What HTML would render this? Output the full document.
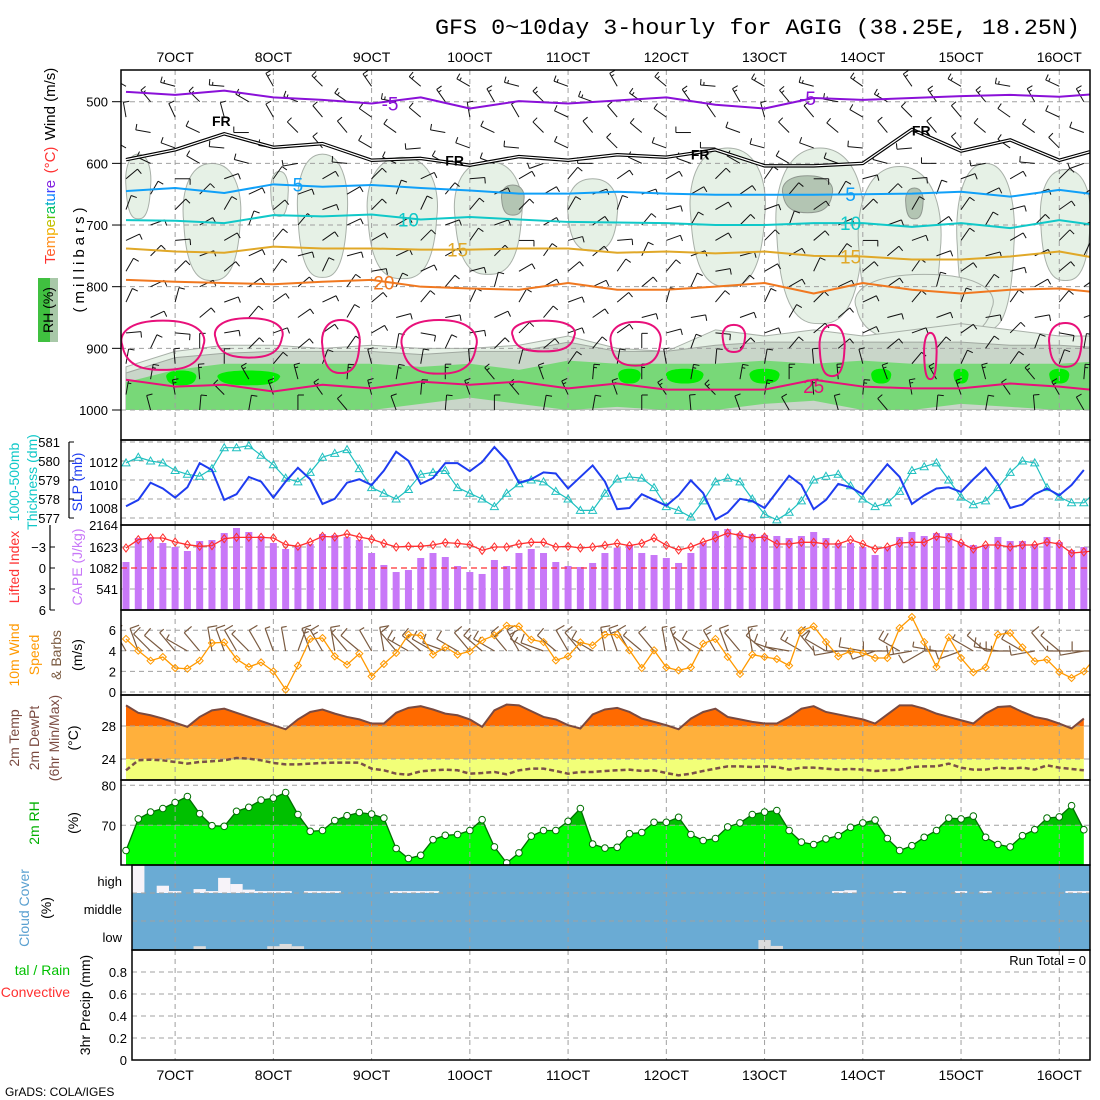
<!DOCTYPE html>
<html><head><meta charset="utf-8"><style>
html,body{margin:0;padding:0;background:#fff;}
svg{display:block;font-family:"Liberation Sans",sans-serif;}
</style></head><body>
<svg id="chart" xmlns="http://www.w3.org/2000/svg" width="1100" height="1100" viewBox="0 0 1100 1100">
<rect x="0" y="0" width="1100" height="1100" fill="#fff"/>
<text x="435" y="34" font-family="Liberation Mono, monospace" font-size="22" textLength="645" lengthAdjust="spacingAndGlyphs">GFS 0~10day 3-hourly for AGIG (38.25E, 18.25N)</text>
<g id="layer"></g>
</svg>
<script>
// ---------- DATA ----------
const dayLabels = ["7OCT","8OCT","9OCT","10OCT","11OCT","12OCT","13OCT","14OCT","15OCT","16OCT"];
const isoM5 = [484,489,482,493,497,503,493,511,499,503,498,493,505,511,494,497,494,491,489,492,486];
const isoFR = [594,578,552,574,568,595,592,603,589,595,586,590,578,604,604,600,545,580,562,595,573];
const iso5  = [645,640,648,634,638,635,640,644,649,649,646,649,651,651,651,650,649,646,654,643,653];
const iso10 = [692,693,697,684,686,683,691,687,691,695,696,697,700,700,697,697,703,697,705,692,703];
const iso15 = [738,743,745,735,738,738,740,740,738,738,745,743,746,743,750,751,756,756,751,743,757];
const iso20 = [789,792,794,796,792,789,800,803,805,794,805,805,800,794,811,794,805,811,805,803,811];
const iso25 = [951,962,959,970,959,965,954,959,954,965,957,967,967,967,951,962,965,965,957,962,970];
const rh30Top = [930,905,895,895,900,895,900,900,895,880,900,905,870,880,870,880,870,860,870,880,880];
const rh50Top = [940,915,908,905,905,905,910,905,905,890,905,905,895,890,890,890,890,890,895,895,900];
const rh70Top = [955,935,925,925,925,925,930,925,935,920,925,925,925,920,925,920,925,925,925,925,920];
const rh70Bot = [1000,1000,1000,1000,1000,1000,990,980,990,1000,995,1000,1000,990,985,1000,1000,990,995,1000,1000];
const plumeT   = [1,7,12.5,16,22.5,29.5,38,49,56.5,63,70,76.5,65];
const plumeTop = [585,600,613,585,590,597,625,575,575,605,600,610,780];
const plumeBot = [690,790,686,785,787,780,742,800,860,880,870,790,890];
const plumeW   = [1,2.3,0.7,2,2.8,2.7,2,3,3.5,3.3,2.3,2,5.5];
const darkT = [31.5,55.5,64.2], darkTop=[635,620,640], darkBot=[684,680,690], darkW=[0.9,2,0.7];
const wetT=[4.5,10,45.5,41,52,61.5,68,76], wetP=[948,948,945,945,945,945,945,945], wetW=[1.2,2.5,1.5,0.9,1.2,0.8,0.6,0.8];
const c25T=[3,10,17.5,25.5,34,41.5,49.5,57.5,65.5,76.5], c25Top=[855,851,854,854,855,857,862,862,875,859], c25Bot=[935,915,940,941,905,928,906,945,950,930], c25W=[3.3,2.7,1.5,3,2.5,2,0.9,1,0.5,1.3];
const barbLevels=[475,500,525,550,575,600,625,650,675,700,725,750,775,800,825,850,875,900,925,950,975,1000];
const barbLevelDir=[300,310,320,300,290,280,60,50,45,50,60,55,50,45,40,60,70,30,10,350,340,350];
const barbLevelSpd=[8,8,7,6,6,5,5,6,6,7,7,7,6,6,6,6,5,6,7,8,8,7];
const barbPert=[0,20,-15,10,-25,5,30,-10,15,-20,25,-5,10,-30,0,15,-15,20,-10,5,30,-20,10,-5,-25,15,0,20,-15,10,5,-30,25,-10,0,15,-20,10,-5,20];
const thick=[579.9,580.2,580.0,579.9,579.5,579.3,579.2,579.6,580.7,580.7,580.8,580.3,579.8,579.1,578.9,579.4,580.2,580.4,580.6,579.6,578.6,578.3,578.0,578.5,579.3,579.4,579.5,578.6,578.3,578.0,577.6,578.3,578.8,579.0,578.9,578.4,578.0,577.4,577.4,578.3,579.05,579.16,579.1,578.6,577.6,577.4,577.05,577.9,578.9,579.1,578.9,578.0,577.2,576.9,577.3,577.9,579.0,579.2,579.3,578.7,578.0,577.6,577.8,578.4,579.5,579.7,579.9,579.0,578.1,577.7,577.9,578.6,579.4,580.0,579.9,578.6,578.1,577.8,577.8,578.4];
const slp=[1008.15,1008.7,1010.2,1009.7,1008.9,1009.8,1011.9,1011.3,1008.7,1009.2,1010.7,1010.3,1008.9,1010.3,1011.5,1010.5,1008.35,1008.8,1010.2,1010.5,1010.0,1011.25,1012.9,1012.1,1010.1,1010.6,1011.9,1011.9,1011.2,1012.0,1013.3,1012.15,1010.2,1010.5,1011.1,1011.0,1009.7,1010.7,1011.7,1010.3,1007.9,1008.0,1009.2,1008.7,1008.2,1009.1,1010.4,1009.3,1007.0,1007.6,1008.8,1008.6,1008.0,1009.4,1010.8,1010.0,1007.9,1008.7,1010.1,1009.8,1009.2,1010.5,1011.8,1010.7,1008.35,1009.1,1009.7,1009.8,1009.4,1010.5,1011.5,1010.1,1008.0,1008.3,1009.2,1009.7,1009.1,1010.0,1011.3];
const cape=[1222,1833,1859,1706,1604,1502,1757,1782,1960,2088,1986,1884,1706,1553,1604,1680,1935,1910,1859,1782,1451,1146,967,1018,1324,1451,1349,1120,967,917,1273,1120,1451,1553,1451,1222,1120,1095,1197,1451,1587,1646,1451,1400,1324,1197,1451,1706,2011,2062,1960,1935,1910,1884,1833,1884,1986,1833,1706,1706,1604,1400,1604,1859,1986,1884,1960,1960,1731,1655,1655,1859,1757,1757,1680,1859,1731,1528,1604];
const liftedIdx=[-2.86,-4.05,-4.29,-4.29,-3.71,-3.33,-3.1,-3.19,-4.19,-4.38,-4.38,-4.38,-4.29,-3.33,-3.1,-3.71,-4.52,-4.43,-4.86,-4.43,-4.1,-3.52,-3.0,-3.1,-3.1,-3.29,-3.62,-3.52,-3.33,-2.52,-3.0,-3.0,-3.43,-3.67,-3.67,-3.0,-3.1,-2.86,-3.0,-3.24,-3.52,-3.19,-3.52,-4.29,-3.24,-2.57,-3.0,-3.71,-4.29,-5.0,-4.67,-4.29,-4.43,-3.43,-3.43,-3.67,-3.67,-3.43,-3.43,-4.05,-3.43,-2.71,-3.0,-3.57,-3.67,-3.67,-4.52,-4.29,-3.57,-2.71,-3.29,-3.29,-3.0,-3.29,-3.29,-3.71,-3.43,-2.14,-2.29,-2.5];
const wspd=[5.15,4.01,3.04,3.4,2.33,2.26,3.04,4.76,4.82,3.2,2.43,2.88,2.0,0.23,2.56,5.15,5.24,3.46,2.65,3.72,1.52,2.72,3.79,5.57,5.5,3.63,4.37,3.63,3.95,5.01,5.5,6.44,6.37,5.08,4.85,3.07,3.46,4.82,4.53,5.57,5.57,4.05,2.33,4.05,2.39,2.1,2.39,4.69,5.15,3.4,1.75,3.63,3.4,3.2,2.56,5.99,6.37,4.85,3.46,3.95,3.79,3.3,3.3,6.21,7.28,4.85,2.43,5.31,3.3,1.91,2.39,5.57,5.73,4.34,2.98,3.14,1.94,1.36,2.0,3.4];
const wdir=[330,340,315,310,320,300,320,350,340,330,315,330,340,350,20,340,330,350,320,310,330,350,320,300,310,300,290,300,320,310,300,320,330,300,290,310,330,320,300,350,340,330,310,320,350,340,310,300,330,340,320,350,310,290,280,300,320,300,260,270,280,250,270,300,260,240,280,270,250,300,310,280,270,300,260,320,310,270,260,270];
const temp2m=[30.5,29.6,29.3,28.9,28.4,27.9,29.1,29.9,30.1,29.6,29.1,28.6,28.1,27.6,28.8,29.7,30.0,29.5,29.1,28.8,28.3,28.3,29.6,30.2,30.4,30.0,29.5,29.3,28.8,27.9,29.9,30.6,30.5,29.8,29.1,28.8,28.1,27.7,29.4,30.0,30.2,29.7,28.9,28.5,28.1,27.6,28.9,29.7,30.1,29.1,28.8,28.5,28.3,28.3,29.1,30.1,30.4,29.7,29.4,29.1,28.8,28.3,29.4,30.5,30.5,30.1,29.5,29.1,28.7,28.3,29.5,30.3,30.4,29.7,29.1,28.8,28.3,27.7,28.9];
const dew2m=[22.63,23.84,23.92,23.84,23.64,23.44,23.64,23.72,23.84,24.12,24.04,23.84,23.52,23.35,23.35,23.44,23.52,23.56,23.56,23.56,22.83,22.63,22.22,22.10,22.51,22.63,22.71,22.63,22.22,22.30,22.43,22.14,22.63,22.83,22.83,22.55,22.22,22.43,22.43,22.55,22.63,22.71,22.55,22.63,22.30,22.02,22.22,22.55,22.83,23.11,23.11,23.03,23.11,23.03,22.71,22.95,22.95,22.83,22.71,22.79,22.71,22.55,22.63,22.71,23.03,23.11,23.11,23.44,22.95,22.71,22.71,22.95,22.83,22.95,22.71,23.23,22.95,22.79,22.63];
const rh2m=[63.7,71.6,73.3,74.2,75.7,77.2,72.9,69.9,69.75,73.5,74.5,76.3,76.8,78.2,72.7,68.5,68.7,71.2,72.4,73.2,72.8,71.8,64.2,61.7,62.5,66.4,67.5,67.7,68.7,71.4,64.6,60.6,63.1,67.3,68.7,68.7,71.0,74.2,65.3,64.3,64.5,67.9,68.2,70.75,70.75,72.0,67.7,66.2,66.7,69.6,70.6,72.7,73.3,73.7,68.7,65.8,65.2,66.6,67.4,69.5,70.6,71.3,66.7,63.7,64.9,67.0,68.7,71.8,71.6,72.3,67.0,65.2,64.6,67.4,68.9,71.8,72.1,74.9,68.9];
const cloudHigh=[0,100,0,26,7,0,14,7,54,32,12,7,7,7,0,7,7,7,0,0,0,0,7,7,7,7,0,0,0,0,0,0,0,0,0,0,0,0,0,0,0,0,0,0,0,0,0,0,0,0,0,0,0,0,0,0,0,0,7,10,0,0,0,7,0,0,0,0,7,0,7,0,0,0,0,0,0,7,7,0];
const cloudLow=[0,0,0,0,0,0,10,0,0,0,0,0,10,18,10,0,0,0,0,0,0,0,0,0,0,0,0,0,0,0,0,0,0,0,0,0,0,0,0,0,0,0,0,0,0,0,0,0,0,0,0,0,32,11,0,0,0,0,0,0,0,0,0,0,0,0,0,0,0,0,0,0,0,0,0,0,0,0,0,0];
const precipTicks=[0,0.2,0.4,0.6,0.8];

// ---------- AXES ----------
const NS="http://www.w3.org/2000/svg";
const layer=document.getElementById('layer');
const X0=126, DX=12.28;
const xAt=i=>X0+DX*i;
const yP=p=>101.7+(p-500)*0.6166;
const yThick=v=>442+(581-v)*19;
const ySlp=v=>485-(v-1010)*11.5;
const yCape=v=>610-v/2164*85;
const yLI=v=>568+v*7;
const yWs=v=>692-v*10.3;
const yT=v=>726-(v-28)*8.25;
const yRH=v=>785.3+(80-v)*4;
const yPr=v=>1060-v*110;

function el(tag,attrs,parent){const e=document.createElementNS(NS,tag);for(const k in attrs)e.setAttribute(k,attrs[k]);(parent||layer).appendChild(e);return e;}
function txt(s,attrs,parent){const e=el('text',attrs,parent);e.textContent=s;return e;}

const defs=el('defs',{});
function clipRect(id,x,y,w,h){const c=el('clipPath',{id:id},defs);el('rect',{x:x,y:y,width:w,height:h},c);}
clipRect('cTop',121,70,969,370);
clipRect('cTopData',121,70,969,340);
clipRect('cP2',121,440,969,85);
clipRect('cP3',121,525,969,85);
clipRect('cP4',121,610,969,85);
clipRect('cCloud',132,865,958,85);

const dashed={stroke:'#a0a0a0','stroke-width':1,'stroke-dasharray':'5,4',fill:'none'};
function hgrid(y,x1,x2,parent){el('line',Object.assign({x1:x1,x2:x2,y1:y,y2:y},dashed),parent);}

// ---------- TOP PANEL ----------
const gTop=el('g',{'clip-path':'url(#cTopData)'});


function blob(cx,pt,pb,hwSteps,fill,stroke,parent){
  const x=xAt(cx),y1=yP(pt),y2=yP(pb),w=hwSteps*DX;
  const ym=(y1+y2)/2;
  const d=`M${x},${y1} C${x+w*0.9},${y1} ${x+w*1.1},${ym-(y2-y1)*0.2} ${x+w},${ym} C${x+w*0.9},${y2} ${x+w*0.3},${y2} ${x},${y2} C${x-w*0.3},${y2} ${x-w*0.9},${y2} ${x-w},${ym} C${x-w*1.1},${ym-(y2-y1)*0.2} ${x-w*0.9},${y1} ${x},${y1}Z`;
  return el('path',{d:d,fill:fill,stroke:stroke,'stroke-width':1},parent);
}
for(let k=0;k<plumeT.length;k++){
  const b=blob(plumeT[k],plumeTop[k],plumeBot[k],plumeW[k],'#e6f1e6','#a8b0a8',gTop);
  
  
}
for(let k=0;k<darkT.length;k++){
  const b=blob(darkT[k],darkTop[k],darkBot[k],darkW[k],'#b3c5b3','#909890',gTop);
  
  
}
function bandPath(tops,bots){
  let d='';
  tops.forEach((p,j)=>{d+=(j?'L':'M')+xAt(4*j)+','+yP(p)+' ';});
  for(let j=bots.length-1;j>=0;j--){d+='L'+xAt(4*j)+','+yP(bots[j])+' ';}
  return d+'Z';
}
const flat1000=rh30Top.map(()=>1000);
const b30=el('path',{d:bandPath(rh30Top,flat1000),fill:'#e6f1e6',stroke:'#a8b0a8','stroke-width':1},gTop);


const b50=el('path',{d:bandPath(rh50Top,flat1000),fill:'#c9d6c9',stroke:'#a0a8a0','stroke-width':1},gTop);


const b70=el('path',{d:bandPath(rh70Top,rh70Bot),fill:'#78d878',stroke:'none'},gTop);


for(let k=0;k<wetT.length;k++){
  const b=blob(wetT[k],wetP[k]-12,wetP[k]+12,wetW[k],'#00ee00','none',gTop);
  
  
}
el('rect',{x:121,y:yP(1000),width:969,height:440-yP(1000),fill:'#fff'},gTop);
const gGridTop=el('g',{'clip-path':'url(#cTop)'});
[500,600,700,800,900,1000].forEach(p=>hgrid(yP(p),121,1090,gGridTop));
for(let k=0;k<10;k++){el('line',Object.assign({x1:xAt(4+8*k),x2:xAt(4+8*k),y1:70,y2:440},dashed),gGridTop);}

function barb(x,y,dir,spd,len,color,w,parent){
  const r=dir*Math.PI/180;
  const ex=x+Math.sin(r)*len, ey=y-Math.cos(r)*len;
  const g=el('g',{stroke:color,'stroke-width':w,fill:'none'},parent);
  el('line',{x1:x,y1:y,x2:ex,y2:ey},g);
  const n=Math.max(1,Math.round(spd/5));
  for(let f=0;f<n;f++){
    const t=1-f*0.22;
    const bx=x+Math.sin(r)*len*t, by=y-Math.cos(r)*len*t;
    const fr=r+Math.PI/2;
    const fl=(spd-f*5>=4)?len*0.4:len*0.22;
    el('line',{x1:bx,y1:by,x2:bx+Math.sin(fr)*fl,y2:by-Math.cos(fr)*fl},g);
  }
  return g;
}
const gBarbs=el('g',{'clip-path':'url(#cTop)'});


barbLevels.forEach((p,li)=>{
  for(let t=0;t<21;t++){
    const off=(li%2)?2:0;
    const i=4*t+off;
    const b=barb(xAt(i),yP(p),barbLevelDir[li]+barbPert[(t*2+li*3)%40],barbLevelSpd[li],15,'#111',1,gBarbs);
    
    
  }
});

const gIso=el('g',{'clip-path':'url(#cTop)'});
for(let k=0;k<c25T.length;k++){
  const b=blob(c25T[k],c25Top[k],c25Bot[k],c25W[k],'none','#e8107a',gIso);
  b.setAttribute('stroke-width','2');
  
  
}
function isoLine(arr,color,name,w){
  const pts=arr.map((p,j)=>xAt(4*j)+','+yP(p)).join(' ');
  const l=el('polyline',{points:pts,fill:'none',stroke:color,'stroke-width':w||2,'stroke-linejoin':'round'},gIso);
  
  
  return l;
}
isoLine(isoM5,'#8a10d8','isotherm-minus5');
isoLine(isoFR,'#000','isotherm-freezing',3.5);
isoLine(isoFR,'#fff','isotherm-freezing-inner',1.2);
isoLine(iso5,'#10a0f8','isotherm-5');
isoLine(iso10,'#10c8c8','isotherm-10');
isoLine(iso15,'#e0a828','isotherm-15');
isoLine(iso20,'#f07820','isotherm-20');
isoLine(iso25,'#e8107a','isotherm-25');
function isoLabel(s,i,p,color,name){
  const x=xAt(i),y=yP(p);
  const t=txt(s,{x:x,y:y+7,'text-anchor':'middle','font-size':19,fill:color},gIso);
  
  
}
isoLabel('-5',21.5,isoM5[5],'#8a10d8','label-minus5');
isoLabel('-5',55.5,isoM5[14],'#8a10d8','label-minus5-right');
isoLabel('5',14,iso5[3],'#10a0f8','label-5');
isoLabel('5',59,iso5[15],'#10a0f8','label-5-right');
isoLabel('10',23,iso10[6],'#10c8c8','label-10');
isoLabel('10',59,iso10[15],'#10c8c8','label-10-right');
isoLabel('15',27,iso15[7],'#e0a828','label-15');
isoLabel('15',59,iso15[15],'#e0a828','label-15-right');
isoLabel('20',21,iso20[5]+4,'#f07820','label-20');
isoLabel('25',56,iso25[14]+10,'#e8107a','label-25');
[[7,isoFR[2]-22],[26,isoFR[6]+2],[46,isoFR[12]+6],[64,isoFR[16]]].forEach(a=>{
  const t=txt('FR',{x:xAt(a[0]),y:yP(a[1])+6,'font-size':14,fill:'#000','font-weight':'bold'},gIso);
  
  
});

// ---------- PANEL 2 ----------
const g2=el('g',{});
[581,580,579,578,577].forEach(v=>hgrid(yThick(v),121,1090,g2));
for(let k=0;k<10;k++)el('line',Object.assign({x1:xAt(4+8*k),x2:xAt(4+8*k),y1:440,y2:525},dashed),g2);
const g2c=el('g',{'clip-path':'url(#cP2)'});
const thickLine=el('polyline',{points:thick.map((v,i)=>xAt(i)+','+yThick(v)).join(' '),fill:'none',stroke:'#20c0c0','stroke-width':1.2},g2c);


thick.forEach((v,i)=>{
  const x=xAt(i),y=yThick(v);
  const m=el('path',{d:`M${x-4},${y+3} L${x},${y-4} L${x+4},${y+3}Z`,fill:'none',stroke:'#20c0c0','stroke-width':1},g2c);
  
  
});
const slpLine=el('polyline',{points:slp.map((v,i)=>xAt(i)+','+ySlp(v)).join(' '),fill:'none',stroke:'#1e3cf0','stroke-width':2},g2c);



// ---------- PANEL 3 ----------
const g3=el('g',{});
[547,589].forEach(y=>hgrid(y,121,1090,g3));
for(let k=0;k<10;k++)el('line',Object.assign({x1:xAt(4+8*k),x2:xAt(4+8*k),y1:525,y2:610},dashed),g3);
const g3c=el('g',{'clip-path':'url(#cP3)'});
cape.forEach((v,i)=>{
  const b=el('rect',{x:xAt(i)-3.5,y:yCape(v),width:7,height:610-yCape(v),fill:'#c878f8'},g3c);
  
  
});
el('line',{x1:121,x2:1090,y1:yLI(0),y2:yLI(0),stroke:'#ff3030','stroke-width':1.3,'stroke-dasharray':'6,4'},g3c);
const liLine=el('polyline',{points:liftedIdx.map((v,i)=>xAt(i)+','+yLI(v)).join(' '),fill:'none',stroke:'#ff3030','stroke-width':1.3},g3c);


liftedIdx.forEach((v,i)=>{
  const x=xAt(i),y=yLI(v);
  const m=el('path',{d:`M${x},${y-4} L${x+3},${y} L${x},${y+4} L${x-3},${y}Z`,fill:'none',stroke:'#ff3030','stroke-width':1},g3c);
  
  
});

// ---------- PANEL 4 ----------
const g4=el('g',{});
[0,2,4,6].forEach(v=>hgrid(yWs(v),121,1090,g4));
for(let k=0;k<10;k++)el('line',Object.assign({x1:xAt(4+8*k),x2:xAt(4+8*k),y1:610,y2:695},dashed),g4);
const g4c=el('g',{'clip-path':'url(#cP4)'});
wdir.forEach((d,i)=>{
  const b=barb(xAt(i),651,d,wspd[i]*1.5,24,'#7a5a40',1.2,g4c);
  
  
});
const wsLine=el('polyline',{points:wspd.map((v,i)=>xAt(i)+','+yWs(v)).join(' '),fill:'none',stroke:'#ff9900','stroke-width':1.3},g4c);


wspd.forEach((v,i)=>{
  const x=xAt(i),y=yWs(v);
  const m=el('path',{d:`M${x},${y-3.5} L${x+3.5},${y} L${x},${y+3.5} L${x-3.5},${y}Z`,fill:'none',stroke:'#ff9900','stroke-width':1},g4c);
  
  
});

// ---------- PANEL 5 ----------
const g5=el('g',{});
const tArea='M'+xAt(0)+',780 '+temp2m.map((v,i)=>'L'+xAt(i)+','+yT(v)).join(' ')+' L'+xAt(temp2m.length-1)+',780Z';
const cT=el('clipPath',{id:'cTemp'},defs);el('path',{d:tArea},cT);
const gTf=el('g',{'clip-path':'url(#cTemp)'},g5);
el('rect',{x:121,y:695,width:969,height:yT(28)-695,fill:'#ff6a00'},gTf);
el('rect',{x:121,y:yT(28),width:969,height:yT(24)-yT(28),fill:'#ffb03c'},gTf);
el('rect',{x:121,y:yT(24),width:969,height:780-yT(24),fill:'#f2ff78'},gTf);
[28,24].forEach(v=>hgrid(yT(v),121,1090,g5));
for(let k=0;k<10;k++)el('line',Object.assign({x1:xAt(4+8*k),x2:xAt(4+8*k),y1:695,y2:780},dashed),g5);
const tLine=el('polyline',{points:temp2m.map((v,i)=>xAt(i)+','+yT(v)).join(' '),fill:'none',stroke:'#7a4a40','stroke-width':2},g5);


const dLine=el('polyline',{points:dew2m.map((v,i)=>xAt(i)+','+yT(v)).join(' '),fill:'none',stroke:'#7a5048','stroke-width':2.5,'stroke-dasharray':'5,3'},g5);



// ---------- PANEL 6 ----------
const g6=el('g',{});
const rArea='M'+xAt(0)+',865 '+rh2m.map((v,i)=>'L'+xAt(i)+','+yRH(v)).join(' ')+' L'+xAt(rh2m.length-1)+',865Z';
const cR=el('clipPath',{id:'cRH'},defs);el('path',{d:rArea},cR);
const gRf=el('g',{'clip-path':'url(#cRH)'},g6);
el('rect',{x:121,y:780,width:969,height:yRH(70)-780,fill:'#00c000'},gRf);
el('rect',{x:121,y:yRH(70),width:969,height:865-yRH(70),fill:'#00ff00'},gRf);
[80,70].forEach(v=>hgrid(yRH(v),121,1090,g6));
for(let k=0;k<10;k++)el('line',Object.assign({x1:xAt(4+8*k),x2:xAt(4+8*k),y1:780,y2:865},dashed),g6);
const rLine=el('polyline',{points:rh2m.map((v,i)=>xAt(i)+','+yRH(v)).join(' '),fill:'none',stroke:'#007000','stroke-width':1.3},g6);


rh2m.forEach((v,i)=>{
  const c=el('circle',{cx:xAt(i),cy:yRH(v),r:3.3,fill:'#fff',stroke:'#007000','stroke-width':1},g6);
  
  
});

// ---------- PANEL 7 ----------
const g7=el('g',{'clip-path':'url(#cCloud)'});
el('rect',{x:132,y:865,width:958,height:85,fill:'#6aabd4'},g7);
const bandBot={high:893,low:949};
cloudHigh.forEach((v,i)=>{ if(v>0){
  const h=v/100*28;
  const b=el('rect',{x:xAt(i)-DX/2,y:bandBot.high-h,width:DX,height:h,fill:'#f7f3f9'},g7);
  
  
}});
cloudLow.forEach((v,i)=>{ if(v>0){
  const h=v/100*28;
  const b=el('rect',{x:xAt(i)-DX/2,y:bandBot.low-h,width:DX,height:h,fill:'#dcdcdc'},g7);
  
  
}});
[893,921].forEach(y=>hgrid(y,132,1090,g7));
for(let k=0;k<10;k++)el('line',Object.assign({x1:xAt(4+8*k),x2:xAt(4+8*k),y1:865,y2:950},dashed),g7);

// ---------- PANEL 8 ----------
const g8=el('g',{});
precipTicks.forEach(v=>{ if(v>0) hgrid(yPr(v),132,1090,g8); });
for(let k=0;k<10;k++)el('line',Object.assign({x1:xAt(4+8*k),x2:xAt(4+8*k),y1:950,y2:1060},dashed),g8);
const rt=txt('Run Total = 0',{x:1086,y:965,'text-anchor':'end','font-size':13},g8);



// ---------- FRAMES ----------
const gF=el('g',{fill:'none',stroke:'#000','stroke-width':1.5});
[[121,70,969,370],[121,440,969,85],[121,525,969,85],[121,610,969,85],[121,695,969,85],[121,780,969,85],[132,865,958,85],[132,950,958,110]].forEach(r=>el('rect',{x:r[0],y:r[1],width:r[2],height:r[3]},gF));
el('line',{x1:69,y1:442,x2:69,y2:518,stroke:'#000','stroke-width':1.2});
el('line',{x1:50,y1:525,x2:50,y2:610,stroke:'#000','stroke-width':1.2});

// ---------- TICK LABELS ----------
const fs=13;
function lab(s,x,y,name,anchor,color,size){const t=txt(s,{x:x,y:y,'text-anchor':anchor||'end','font-size':size||fs,fill:color||'#000'});return t;}
[500,600,700,800,900,1000].forEach(p=>{lab(String(p),108,yP(p)+5,'pressure-tick');el('line',{x1:112,x2:121,y1:yP(p),y2:yP(p),stroke:'#000'});});
[581,580,579,578,577].forEach(v=>{lab(String(v),60,yThick(v)+5,'thickness-tick');el('line',{x1:69,x2:74,y1:yThick(v),y2:yThick(v),stroke:'#000'});});
[1012,1010,1008].forEach(v=>lab(String(v),118,ySlp(v)+5,'slp-tick'));
[-3,0,3,6].forEach(v=>{lab(v<0?'\u2212'+(-v):String(v),46,yLI(v)+5,'li-tick');el('line',{x1:50,x2:55,y1:yLI(v),y2:yLI(v),stroke:'#000'});});
[[2164,525],[1623,547],[1082,568],[541,589]].forEach(a=>lab(String(a[0]),118,a[1]+5,'cape-tick'));
[6,4,2,0].forEach(v=>lab(String(v),116,yWs(v)+5,'wind-speed-tick'));
[28,24].forEach(v=>lab(String(v),116,yT(v)+5,'temp-tick'));
[80,70].forEach(v=>lab(String(v),116,yRH(v)+5,'rh-tick'));
lab('high',122,886,'cloud-high-label');lab('middle',122,914,'cloud-middle-label');lab('low',122,942,'cloud-low-label');
precipTicks.forEach(v=>lab(String(v),127,yPr(v)+5,'precip-tick'));
dayLabels.forEach((s,k)=>{
  lab(s,xAt(4+8*k),62,'top-date-label','middle','#000',14);
  lab(s,xAt(4+8*k),1080,'bottom-date-label','middle','#000',14);
});
lab('GrADS: COLA/IGES',5,1096,'credit-label','start','#000',12);

// ---------- ROTATED AXIS TITLES ----------
function vlab(s,x,y,color,name,size,ls){const t=txt(s,{x:x,y:y,'text-anchor':'middle','font-size':size||14,fill:color,transform:`rotate(-90 ${x} ${y})`});if(ls)t.setAttribute('letter-spacing',ls);return t;}
vlab('Wind (m/s)',55,104,'#000','wind-axis-title',15);
vlab('(°C)',55,160,'#ff3030','temp-unit-title',15);
const tt=txt('',{x:55,y:222,'text-anchor':'middle','font-size':15,transform:'rotate(-90 55 222)'});


const cols=['#ff3030','#ff6030','#ff9020','#f0b000','#c0c000','#60c000','#00c060','#00b0c0','#0080ff','#4040ff','#8020e0'];
'Temperature'.split('').forEach((c,k)=>{const s=document.createElementNS(NS,'tspan');s.setAttribute('fill',cols[k]);s.textContent=c;tt.appendChild(s);});
const rhBox=el('rect',{x:38,y:278,width:20,height:64,fill:'#40c040'});


el('rect',{x:50,y:278,width:8,height:64,fill:'#a8c8a8'});
vlab('RH (%)',53,310,'#000','rh-axis-title',14);
vlab('(millibars)',84,258,'#000','pressure-axis-title',15,'4');
vlab('1000-500mb',19,482,'#10c8c8','thickness-axis-title',14);
vlab('Thickness (dm)',37,482,'#10c8c8','thickness-unit-title',14);
vlab('SLP (mb)',82,482,'#1e3cf0','slp-axis-title',14);
vlab('Lifted Index',19,567,'#ff3030','li-axis-title',14);
vlab('CAPE (J/kg)',82,567,'#c878f8','cape-axis-title',14);
vlab('10m Wind',19,655,'#ff9900','wind10-axis-title',14);
vlab('Speed',39,655,'#ff9900','wind10-speed-title',14);
vlab('& Barbs',61,655,'#7a5a40','wind10-barb-title',14);
vlab('(m/s)',82,655,'#000','wind10-unit-title',14);
vlab('2m Temp',19,738,'#7a4a40','temp2m-axis-title',14);
vlab('2m DewPt',39,738,'#7a4a40','dew2m-axis-title',14);
vlab('(6hr Min/Max)',59,738,'#7a4a40','minmax-axis-title',14);
vlab('(°C)',78,738,'#000','temp2m-unit-title',14);
vlab('2m RH',39,823,'#00b000','rh2m-axis-title',14);
vlab('(%)',78,823,'#000','rh2m-unit-title',14);
vlab('Cloud Cover',29,908,'#5aa0d0','cloud-axis-title',14);
vlab('(%)',51,908,'#000','cloud-unit-title',14);
vlab('3hr Precip (mm)',90,1005,'#000','precip-axis-title',14);
lab('tal / Rain',70,975,'precip-total-rain-title','end','#00c000',14);
lab('Convective',70,997,'precip-convective-title','end','#ff3030',14);
</script>
</body></html>
